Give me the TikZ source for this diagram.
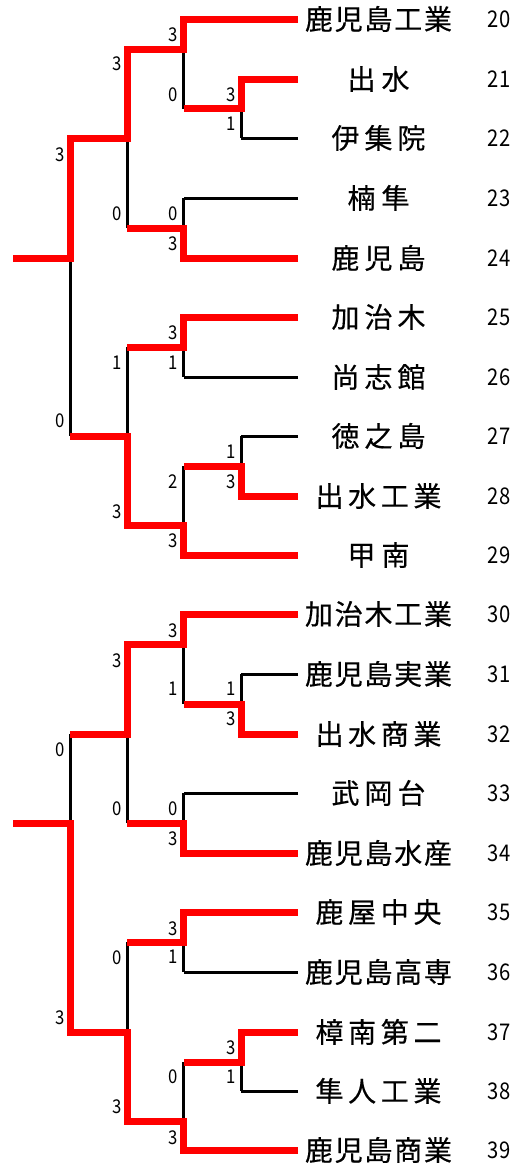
\documentclass[tikz,border=0pt]{standalone}
\usepackage{fontspec}
\newfontfamily\jp{Noto Sans CJK JP}
\newfontfamily\jpb[FakeBold=0.4]{Noto Sans CJK JP}
\newcommand\sbx[2]{\makebox[#1][s]{#2}}
\newcommand\nrw[1]{\scalebox{0.88}[1]{#1}}
\begin{document}
\begin{tikzpicture}[x=1pt,y=-1pt,
  br/.style={line width=3pt, black},
  win/.style={line width=7pt, red, line join=miter},
  team/.style={font=\jpb\fontsize{28}{28}\selectfont, anchor=base, inner sep=0pt},
  seed/.style={font=\jp\fontsize{23}{23}\selectfont, anchor=base, inner sep=0pt},
  score/.style={font=\jp\fontsize{19}{19}\selectfont, anchor=base east, inner sep=0pt}]
\useasboundingbox (0,0) rectangle (523,1167);
% leaf ends
\foreach \i/\y in {0/19,1/79,2/138,3/198,4/258,5/317,6/377,7/436,8/496,9/555,10/614,11/674,12/734,13/793,14/853,15/912,16/972,17/1032,18/1091,19/1150}
  \coordinate (L\i) at (298,\y);
% junctions top
\coordinate (M1) at (241,108.5);
\coordinate (M2) at (183.5,49);
\coordinate (M3) at (183.5,228);
\coordinate (M4) at (127,138);
\coordinate (M5) at (183.5,347);
\coordinate (M6) at (241,466);
\coordinate (M7) at (183.5,525.5);
\coordinate (M8) at (127,436);
\coordinate (M9) at (70,258);
\coordinate (S1) at (13,258);
% junctions bottom
\coordinate (N1) at (241,704);
\coordinate (N2) at (183.5,644);
\coordinate (N3) at (183.5,823);
\coordinate (N4) at (127,734);
\coordinate (N5) at (183.5,942);
\coordinate (N6) at (241,1062);
\coordinate (N7) at (183.5,1121);
\coordinate (N8) at (127,1032);
\coordinate (N9) at (70,823);
\coordinate (S2) at (13,823);
% black structure: leaves
\foreach \l/\m in {0/M2,1/M1,2/M1,3/M3,4/M3,5/M5,6/M5,7/M6,8/M6,9/M7,10/N2,11/N1,12/N1,13/N3,14/N3,15/N5,16/N5,17/N6,18/N6,19/N7}
  \draw[br] (L\l) -- (L\l -| \m);
% black verticals
\draw[br] (L1 -| M1) -- (L2 -| M1);
\draw[br] (L0 -| M2) -- (M1 -| M2);
\draw[br] (L3 -| M3) -- (L4 -| M3);
\draw[br] (M2 -| M4) -- (M3 -| M4);
\draw[br] (L5 -| M5) -- (L6 -| M5);
\draw[br] (L7 -| M6) -- (L8 -| M6);
\draw[br] (M6 -| M7) -- (L9 -| M7);
\draw[br] (M5 -| M8) -- (M7 -| M8);
\draw[br] (M4 -| M9) -- (M8 -| M9);
\draw[br] (L11 -| N1) -- (L12 -| N1);
\draw[br] (L10 -| N2) -- (N1 -| N2);
\draw[br] (L13 -| N3) -- (L14 -| N3);
\draw[br] (N2 -| N4) -- (N3 -| N4);
\draw[br] (L15 -| N5) -- (L16 -| N5);
\draw[br] (L17 -| N6) -- (L18 -| N6);
\draw[br] (N6 -| N7) -- (L19 -| N7);
\draw[br] (N5 -| N8) -- (N7 -| N8);
\draw[br] (N4 -| N9) -- (N8 -| N9);
% black horizontals
\draw[br] (M1) -- (M1 -| M2);
\draw[br] (M2) -- (M2 -| M4);
\draw[br] (M3) -- (M3 -| M4);
\draw[br] (M4) -- (M4 -| M9);
\draw[br] (M5) -- (M5 -| M8);
\draw[br] (M6) -- (M6 -| M7);
\draw[br] (M7) -- (M7 -| M8);
\draw[br] (M8) -- (M8 -| M9);
\draw[br] (M9) -- (S1);
\draw[br] (N1) -- (N1 -| N2);
\draw[br] (N2) -- (N2 -| N4);
\draw[br] (N3) -- (N3 -| N4);
\draw[br] (N4) -- (N4 -| N9);
\draw[br] (N5) -- (N5 -| N8);
\draw[br] (N6) -- (N6 -| N7);
\draw[br] (N7) -- (N7 -| N8);
\draw[br] (N8) -- (N8 -| N9);
\draw[br] (N9) -- (S2);
% red winner paths
\draw[win] (L0) -- (L0 -| M2) -- (M2) -- (M2 -| M4) -- (M4) -- (M4 -| M9) -- (M9) -- (S1);
\draw[win] (L1) -- (L1 -| M1) -- (M1) -- (M1 -| M2);
\draw[win] (L4) -- (L4 -| M3) -- (M3) -- (M3 -| M4);
\draw[win] (L5) -- (L5 -| M5) -- (M5) -- (M5 -| M8);
\draw[win] (L8) -- (L8 -| M6) -- (M6) -- (M6 -| M7);
\draw[win] (L9) -- (L9 -| M7) -- (M7) -- (M7 -| M8) -- (M8) -- (M8 -| M9);
\draw[win] (L10) -- (L10 -| N2) -- (N2) -- (N2 -| N4) -- (N4) -- (N4 -| N9);
\draw[win] (L12) -- (L12 -| N1) -- (N1) -- (N1 -| N2);
\draw[win] (L14) -- (L14 -| N3) -- (N3) -- (N3 -| N4);
\draw[win] (L15) -- (L15 -| N5) -- (N5) -- (N5 -| N8);
\draw[win] (L17) -- (L17 -| N6) -- (N6) -- (N6 -| N7);
\draw[win] (L19) -- (L19 -| N7) -- (N7) -- (N7 -| N8) -- (N8) -- (N8 -| N9) -- (N9) -- (S2);
% team names
\node[team] (T20) at (378.5,29.6) {\sbx{147pt}{鹿\hfill 児\hfill 島\hfill 工\hfill 業}};
\node[team] (T21) at (378.5,89.6) {\sbx{62pt}{出\hfill 水}};
\node[team] (T22) at (378.5,148.6) {\sbx{94pt}{伊\hfill 集\hfill 院}};
\node[team] (T23) at (378.5,208.6) {\sbx{62pt}{楠\hfill 隼}};
\node[team] (T24) at (378.5,268.6) {\sbx{94pt}{鹿\hfill 児\hfill 島}};
\node[team] (T25) at (378.5,327.6) {\sbx{94pt}{加\hfill 治\hfill 木}};
\node[team] (T26) at (378.5,387.6) {\sbx{94pt}{尚\hfill 志\hfill 館}};
\node[team] (T27) at (378.5,446.6) {\sbx{94pt}{徳\hfill 之\hfill 島}};
\node[team] (T28) at (378.5,506.6) {\sbx{126pt}{出\hfill 水\hfill 工\hfill 業}};
\node[team] (T29) at (378.5,565.6) {\sbx{62pt}{甲\hfill 南}};
\node[team] (T30) at (378.5,624.6) {\sbx{147pt}{加\hfill 治\hfill 木\hfill 工\hfill 業}};
\node[team] (T31) at (378.5,684.6) {\sbx{147pt}{鹿\hfill 児\hfill 島\hfill 実\hfill 業}};
\node[team] (T32) at (378.5,744.6) {\sbx{126pt}{出\hfill 水\hfill 商\hfill 業}};
\node[team] (T33) at (378.5,803.6) {\sbx{94pt}{武\hfill 岡\hfill 台}};
\node[team] (T34) at (378.5,863.6) {\sbx{147pt}{鹿\hfill 児\hfill 島\hfill 水\hfill 産}};
\node[team] (T35) at (378.5,922.6) {\sbx{126pt}{鹿\hfill 屋\hfill 中\hfill 央}};
\node[team] (T36) at (378.5,982.6) {\sbx{147pt}{鹿\hfill 児\hfill 島\hfill 高\hfill 専}};
\node[team] (T37) at (378.5,1042.6) {\sbx{126pt}{樟\hfill 南\hfill 第\hfill 二}};
\node[team] (T38) at (378.5,1101.6) {\sbx{126pt}{隼\hfill 人\hfill 工\hfill 業}};
\node[team] (T39) at (378.5,1160.6) {\sbx{147pt}{鹿\hfill 児\hfill 島\hfill 商\hfill 業}};
% seed numbers
\foreach \n/\y in {20/19,21/79,22/138,23/198,24/258,25/317,26/377,27/436,28/496,29/555,30/614,31/674,32/734,33/793,34/853,35/912,36/972,37/1032,38/1091,39/1150}
  \node[seed] (n\n) at (499,\y+8.4) {\nrw{\n}};
% scores
\foreach \k/\x/\y/\s in {
  a1/235.5/94/3, a2/235.5/123/1,
  b1/178/34/3, b2/178/94/0,
  c1/178/213/0, c2/178/243/3,
  d1/121.5/63/3, d2/121.5/213/0,
  e1/178/332/3, e2/178/362/1,
  f1/235.5/451/1, f2/235.5/481/3,
  g1/178/481/2, g2/178/540/3,
  h1/121.5/362/1, h2/121.5/511/3,
  i1/64.5/154/3, i2/64.5/420/0,
  j1/235.5/688/1, j2/235.5/718/3,
  k1/178/630/3, k2/178/688/1,
  l1/178/808/0, l2/178/838/3,
  m1/121.5/660/3, m2/121.5/808/0,
  o1/178/928/3, o2/178/956/1,
  p1/235.5/1047/3, p2/235.5/1076/1,
  q1/178/1076/0, q2/178/1137/3,
  r1/121.5/957/0, r2/121.5/1106/3,
  t1/64.5/749/0, t2/64.5/1017/3}
  \node[score] (sc\k) at (\x,\y+7) {\nrw{\s}};
\end{tikzpicture}
\end{document}
